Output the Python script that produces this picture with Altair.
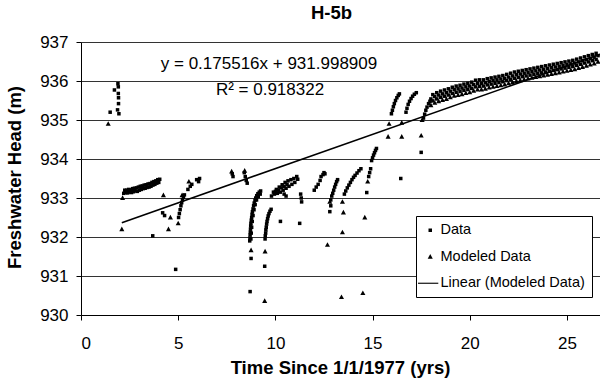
import altair as alt
import pandas as pd

# ---------------- values ----------------
title_text = "H-5b"
x_title = "Time Since 1/1/1977 (yrs)"
y_title = "Freshwater Head (m)"
equation_text = "y = 0.175516x + 931.998909"
r2_text = "R\u00b2 = 0.918322"
series_names = ["Data", "Modeled Data", "Linear (Modeled Data)"]
x_ticks = [0, 5, 10, 15, 20, 25]
y_ticks = [930, 931, 932, 933, 934, 935, 936, 937]

# measured data (small dots), clusters as (time, head)
data_early = [(1.50, 935.20), (1.72, 935.77), (1.90, 935.93), (1.92, 935.85), (1.92, 935.68),
              (1.93, 935.57), (1.93, 935.42), (1.88, 935.26), (1.95, 935.16)]
data_band_1979_low = [(2.2, 933.12), (2.3, 933.14), (2.4, 933.13), (2.5, 933.15), (2.6, 933.14),
                      (2.7, 933.16), (2.8, 933.18), (2.9, 933.17), (3.0, 933.20), (3.1, 933.22),
                      (3.2, 933.24), (3.3, 933.25), (3.4, 933.27), (3.5, 933.28), (3.6, 933.30),
                      (3.7, 933.33), (3.8, 933.35), (3.9, 933.38), (4.0, 933.40)]
data_band_1979_high = [(2.25, 933.20), (2.35, 933.20), (2.45, 933.22), (2.55, 933.21), (2.65, 933.24),
                       (2.75, 933.25), (2.85, 933.26), (2.95, 933.28), (3.05, 933.30), (3.15, 933.31),
                       (3.25, 933.33), (3.35, 933.34), (3.45, 933.36), (3.55, 933.37), (3.65, 933.40),
                       (3.75, 933.42), (3.85, 933.44), (3.95, 933.47), (4.05, 933.48)]
data_scatter = [(3.69, 932.03), (4.20, 932.62), (4.30, 932.55), (4.87, 931.17), (8.75, 931.45),
                (8.70, 930.60), (9.45, 931.25), (10.26, 932.40), (11.25, 932.35), (16.45, 933.50),
                (17.50, 934.17)]
data_rise_1982 = [(5.02, 932.50), (5.06, 932.60), (5.10, 932.70), (5.14, 932.80), (5.18, 932.88),
                  (5.22, 932.95), (5.27, 933.02), (5.32, 933.08)]
data_cluster_1983 = [(5.50, 933.22), (5.62, 933.30), (5.70, 933.35), (5.95, 933.47), (6.05, 933.42),
                     (6.10, 933.50), (7.78, 933.62), (7.82, 933.55), (8.40, 933.65), (8.45, 933.55),
                     (8.50, 933.45), (8.55, 933.38)]
data_recovery_1986 = [(8.68, 931.90), (8.69, 931.97), (8.70, 932.05), (8.71, 932.12), (8.72, 932.20),
                      (8.73, 932.28), (8.74, 932.35), (8.76, 932.43), (8.78, 932.50), (8.80, 932.58),
                      (8.82, 932.65), (8.85, 932.72), (8.88, 932.80), (8.91, 932.87), (8.95, 932.94),
                      (8.99, 933.00), (9.04, 933.06), (9.10, 933.11), (9.17, 933.15), (9.24, 933.18),
                      (8.74, 931.95), (8.76, 932.10), (8.78, 932.25), (8.81, 932.40), (8.85, 932.55),
                      (8.90, 932.70), (8.96, 932.83), (9.03, 932.95), (9.12, 933.04), (9.22, 933.10)]
data_recovery_1987 = [(9.47, 931.95), (9.48, 932.03), (9.50, 932.10), (9.51, 932.18), (9.53, 932.25),
                      (9.55, 932.33), (9.57, 932.40), (9.60, 932.47), (9.63, 932.54), (9.67, 932.60),
                      (9.72, 932.66), (9.78, 932.71)]
data_cluster_1988 = [(9.80, 933.05), (9.95, 933.10), (10.10, 933.12), (10.25, 933.15), (10.40, 933.20),
                     (10.55, 933.25), (10.70, 933.30), (10.85, 933.35), (11.00, 933.40), (11.15, 933.48),
                     (9.90, 933.15), (10.05, 933.22), (10.20, 933.28), (10.35, 933.34), (10.50, 933.40),
                     (10.65, 933.44), (10.80, 933.47), (10.95, 933.50), (11.10, 933.55),
                     (10.00, 933.17), (10.15, 933.20), (10.30, 933.26), (10.45, 933.30), (10.60, 933.35),
                     (10.45, 933.10), (10.55, 933.05), (11.30, 933.10), (11.33, 933.00), (11.35, 932.90)]
data_cluster_1989 = [(12.00, 933.20), (12.10, 933.28), (12.20, 933.35), (12.30, 933.45), (12.35, 933.55),
                     (12.45, 933.60), (12.50, 933.65), (12.55, 933.62),
                     (12.85, 932.95), (12.90, 933.05), (12.95, 933.12), (13.00, 933.20), (13.05, 933.28),
                     (13.10, 933.35), (13.15, 933.42), (13.20, 933.47), (12.85, 932.80), (12.80, 932.65)]
data_rise_1991 = [(13.55, 933.10), (13.62, 933.18), (13.70, 933.26), (13.78, 933.33), (13.86, 933.40),
                  (13.94, 933.47), (14.02, 933.53), (14.10, 933.58), (14.20, 933.64), (14.30, 933.70),
                  (14.40, 933.75), (14.70, 933.14), (14.80, 933.55), (14.85, 933.65), (14.90, 933.75),
                  (14.95, 933.96), (15.00, 934.03), (15.05, 934.10), (15.10, 934.16), (15.15, 934.22),
                  (15.20, 934.27)]
data_rise_1993 = [(15.97, 935.16), (16.02, 935.25), (16.07, 935.34), (16.12, 935.42), (16.18, 935.50),
                  (16.25, 935.57), (16.32, 935.63), (16.38, 935.67),
                  (16.72, 935.20), (16.77, 935.30), (16.83, 935.40), (16.90, 935.48), (16.98, 935.55),
                  (17.06, 935.61), (17.15, 935.66), (17.25, 935.70),
                  (17.62, 935.05), (17.68, 935.15), (17.74, 935.25), (17.80, 935.33), (17.88, 935.42),
                  (17.95, 935.48)]
data_band_late_top = [(18.1, 935.65), (18.3, 935.70), (18.5, 935.74), (18.7, 935.77), (18.9, 935.80),
                      (19.1, 935.84), (19.3, 935.87), (19.5, 935.89), (19.7, 935.92), (19.9, 935.94),
                      (20.1, 935.97), (20.3, 936.02), (20.5, 936.03), (20.7, 936.03), (20.9, 936.06),
                      (21.1, 936.08), (21.3, 936.10), (21.5, 936.12), (21.7, 936.14), (21.9, 936.17),
                      (22.1, 936.20), (22.3, 936.23), (22.5, 936.25), (22.7, 936.27), (22.9, 936.29),
                      (23.1, 936.31), (23.3, 936.33), (23.5, 936.35), (23.7, 936.37), (23.9, 936.39),
                      (24.1, 936.41), (24.3, 936.43), (24.5, 936.45), (24.7, 936.47), (24.9, 936.49),
                      (25.1, 936.51), (25.3, 936.53), (25.5, 936.56), (25.7, 936.59), (25.9, 936.62),
                      (26.1, 936.65), (26.3, 936.68), (26.5, 936.71)]
data_band_late_mid = [(18.0, 935.54), (18.2, 935.60), (18.4, 935.64), (18.6, 935.67), (18.8, 935.70),
                      (19.0, 935.74), (19.2, 935.78), (19.4, 935.80), (19.6, 935.82), (19.8, 935.85),
                      (20.0, 935.87), (20.2, 935.91), (20.4, 935.94), (20.6, 935.94), (20.8, 935.96),
                      (21.0, 935.99), (21.2, 936.01), (21.4, 936.03), (21.6, 936.05), (21.8, 936.07),
                      (22.0, 936.10), (22.2, 936.13), (22.4, 936.16), (22.6, 936.18), (22.8, 936.20),
                      (23.0, 936.22), (23.2, 936.24), (23.4, 936.26), (23.6, 936.28), (23.8, 936.30),
                      (24.0, 936.32), (24.2, 936.34), (24.4, 936.36), (24.6, 936.38), (24.8, 936.40),
                      (25.0, 936.42), (25.2, 936.44), (25.4, 936.46), (25.6, 936.49), (25.8, 936.52),
                      (26.0, 936.55), (26.2, 936.58), (26.4, 936.61), (26.6, 936.65)]
data_band_late_low = [(18.1, 935.49), (18.3, 935.54), (18.5, 935.58), (18.7, 935.61), (18.9, 935.64),
                      (19.1, 935.68), (19.3, 935.71), (19.5, 935.73), (19.7, 935.76), (19.9, 935.78),
                      (20.1, 935.81), (20.3, 935.85), (20.5, 935.86), (20.7, 935.87), (20.9, 935.90),
                      (21.1, 935.92), (21.3, 935.94), (21.5, 935.96), (21.7, 935.98), (21.9, 936.01),
                      (22.1, 936.04), (22.3, 936.07), (22.5, 936.09), (22.7, 936.11), (22.9, 936.13),
                      (23.1, 936.15), (23.3, 936.17), (23.5, 936.19), (23.7, 936.21), (23.9, 936.23),
                      (24.1, 936.25), (24.3, 936.27), (24.5, 936.29), (24.7, 936.31), (24.9, 936.33),
                      (25.1, 936.35), (25.3, 936.37), (25.5, 936.40), (25.7, 936.43), (25.9, 936.46),
                      (26.1, 936.49), (26.3, 936.52), (26.5, 936.55)]

# modeled data (triangles)
model_scatter = [(1.40, 934.90), (2.10, 932.20), (2.14, 933.00), (4.24, 933.07), (4.60, 932.50),
                 (4.50, 932.20), (5.00, 932.35), (5.20, 933.07), (5.55, 933.42), (7.75, 933.68),
                 (8.42, 933.70), (8.75, 931.66), (9.47, 931.63), (9.45, 930.36), (12.68, 931.80),
                 (12.80, 932.90), (13.45, 932.90), (13.50, 932.63), (13.45, 932.12), (13.40, 930.46),
                 (14.50, 930.56), (14.60, 932.50), (14.75, 933.42), (15.80, 934.57), (16.50, 934.57),
                 (17.50, 934.60), (15.85, 934.90), (16.50, 934.93), (17.55, 935.00)]
model_band_late = [(18.0, 935.38), (18.2, 935.44), (18.4, 935.48), (18.6, 935.51), (18.8, 935.54),
                   (19.0, 935.58), (19.2, 935.62), (19.4, 935.64), (19.6, 935.66), (19.8, 935.69),
                   (20.0, 935.71), (20.2, 935.75), (20.4, 935.78), (20.6, 935.78), (20.8, 935.80),
                   (21.0, 935.83), (21.2, 935.85), (21.4, 935.87), (21.6, 935.89), (21.8, 935.91),
                   (22.0, 935.94), (22.2, 935.97), (22.4, 936.00), (22.6, 936.02), (22.8, 936.04),
                   (23.0, 936.06), (23.2, 936.08), (23.4, 936.10), (23.6, 936.12), (23.8, 936.14),
                   (24.0, 936.16), (24.2, 936.18), (24.4, 936.20), (24.6, 936.22), (24.8, 936.24),
                   (25.0, 936.26), (25.2, 936.28), (25.4, 936.30), (25.6, 936.33), (25.8, 936.36),
                   (26.0, 936.39), (26.2, 936.42), (26.4, 936.45), (26.6, 936.49)]

# linear trend of the modeled data (end points of the fitted line)
trend_x = [2.1, 26.7]
trend_y = [932.367, 936.685]

# ---------------- build tables ----------------
data_clusters = [data_early, data_band_1979_low, data_band_1979_high, data_scatter, data_rise_1982,
                 data_cluster_1983, data_recovery_1986, data_recovery_1987, data_cluster_1988,
                 data_cluster_1989, data_rise_1991, data_rise_1993, data_band_late_top,
                 data_band_late_mid, data_band_late_low]
model_clusters = [model_scatter, model_band_late]

rows = []
for cl in data_clusters:
    for x, y in cl:
        rows.append({"x": x, "y": y, "series": "Data"})
for cl in model_clusters:
    for x, y in cl:
        rows.append({"x": x, "y": y, "series": "Modeled Data"})
pts = pd.DataFrame(rows)
trend = pd.DataFrame({"x": trend_x, "y": trend_y})

FONT = "Liberation Sans"
SYM = 196  # 14 px symbol box
square_path = "M-0.25,-0.25H0.25V0.25H-0.25Z"
tri_path = "M0,-0.38L0.36,0.28L-0.36,0.28Z"
line_path = "M-1.75,-0.08H1.15V0.08H-1.75Z"

x_axis = alt.Axis(values=x_ticks, grid=False, title=x_title, format="d",
                  tickSize=5, labelPadding=15, labelFontSize=17,
                  titleFontSize=18.5, titleFontWeight="bold",
                  titleX=259, titleY=52, titleAlign="center", titleBaseline="middle")
y_axis = alt.Axis(values=y_ticks, grid=True, title=y_title, format="d", tickCount=8,
                  gridColor="#333333", gridWidth=1,
                  tickSize=5, labelPadding=8, labelFontSize=17,
                  titleFontSize=18.5, titleFontWeight="bold", titleAngle=270,
                  titleX=-67, titleY=135, titleAlign="center", titleBaseline="middle")
x_scale = alt.Scale(domain=[0, 26.7], nice=False, zero=False)
y_scale = alt.Scale(domain=[930, 937], nice=False, zero=False)


def x_enc():
    return alt.X("x:Q", scale=x_scale, axis=x_axis)


def y_enc():
    return alt.Y("y:Q", scale=y_scale, axis=y_axis)


points = alt.Chart(pts).mark_point(filled=True, size=SYM, color="black", opacity=1).encode(
    x=x_enc(), y=y_enc(),
    shape=alt.Shape("series:N",
                    scale=alt.Scale(domain=series_names, range=[square_path, tri_path, line_path]),
                    legend=alt.Legend(title=None, orient="none", legendX=335, legendY=174,
                                      labelFont=FONT, labelFontSize=14.5, labelColor="black",
                                      symbolSize=SYM, symbolFillColor="black", symbolStrokeWidth=0,
                                      padding=7, rowPadding=11.5, labelOffset=3,
                                      strokeColor="black", fillColor="white", cornerRadius=0)),
)

line = alt.Chart(trend).mark_line(color="black", strokeWidth=1.6).encode(x=x_enc(), y=y_enc())

eq = alt.Chart(pd.DataFrame({"t": [equation_text]})).mark_text(
    font=FONT, fontSize=17, color="black", align="center", baseline="middle"
).encode(text="t:N", x=alt.value(188), y=alt.value(22))
r2 = alt.Chart(pd.DataFrame({"t": [r2_text]})).mark_text(
    font=FONT, fontSize=17, color="black", align="center", baseline="middle"
).encode(text="t:N", x=alt.value(189), y=alt.value(48))

chart = alt.layer(points, line, eq, r2).properties(
    width=519, height=273,
    title=alt.TitleParams(title_text, fontSize=18.5, fontWeight="bold", font=FONT,
                          anchor="middle", dx=-9, offset=11, color="black"),
    autosize=alt.AutoSizeParams(type="none"),
    padding={"left": 81, "top": 42, "right": 0, "bottom": 64},
).configure(font=FONT).configure_view(stroke=None).configure_axis(
    labelFont=FONT, titleFont=FONT, labelColor="black", titleColor="black",
    domainColor="black", tickColor="black", labelOverlap=False
)

chart.save("out.html", embed_options={"renderer": "svg", "actions": False})
